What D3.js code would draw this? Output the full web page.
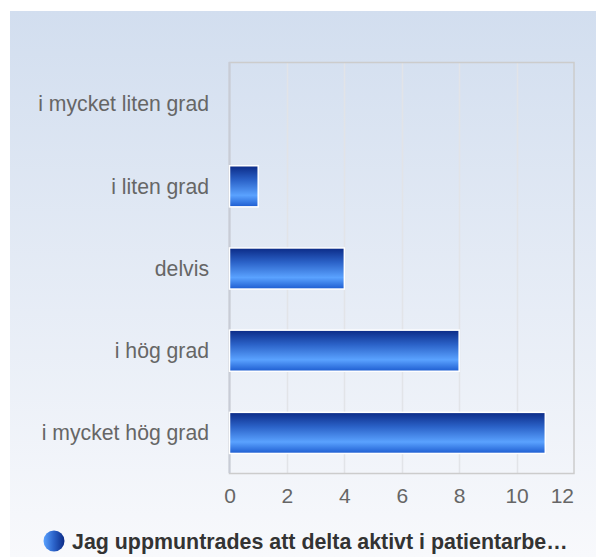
<!DOCTYPE html>
<html><head><meta charset="utf-8">
<script src="https://cdn.jsdelivr.net/npm/d3@7"></script>
<style>html,body{margin:0;padding:0;background:#fff;}svg{display:block;}</style>
</head><body>
<svg id="c" width="596" height="557"></svg>
<script>
const categories = ["i mycket liten grad","i liten grad","delvis","i hög grad","i mycket hög grad"];
const values = [0, 1, 4, 8, 11];
const xTicks = [0, 2, 4, 6, 8, 10, 12];
const seriesName = "Jag uppmuntrades att delta aktivt i patientarbe…";

const FONT = "'Liberation Sans', Arial, sans-serif";
const svg = d3.select("#c");
const defs = svg.append("defs");
const bg = defs.append("linearGradient").attr("id","bg").attr("x1",0).attr("y1",0).attr("x2",0).attr("y2",1);
bg.append("stop").attr("offset","0%").attr("stop-color","#d2deef");
bg.append("stop").attr("offset","100%").attr("stop-color","#f8f9fc");
const bar = defs.append("linearGradient").attr("id","bar").attr("x1",0).attr("y1",0).attr("x2",0).attr("y2",1);
bar.append("stop").attr("offset","0%").attr("stop-color","#0b2a86");
bar.append("stop").attr("offset","35%").attr("stop-color","#2b62c8");
bar.append("stop").attr("offset","72%").attr("stop-color","#5aa2ff");
bar.append("stop").attr("offset","100%").attr("stop-color","#1d5cd0");
const leg = defs.append("linearGradient").attr("id","leg").attr("x1",0).attr("y1",0).attr("x2",1).attr("y2",0);
leg.append("stop").attr("offset","0%").attr("stop-color","#5aa2ff");
leg.append("stop").attr("offset","50%").attr("stop-color","#2b62c8");
leg.append("stop").attr("offset","100%").attr("stop-color","#0b2a86");

svg.append("rect").attr("x",10).attr("y",11).attr("width",586).attr("height",546).attr("fill","url(#bg)");

const L = 229.5, R = 574, T = 62, B = 473;
const x = d3.scaleLinear().domain([0,12]).range([L,R]);
const y = d3.scaleBand().domain(categories).range([T,B]).paddingInner(0.5).paddingOuter(0.25);

// grid
svg.append("g").selectAll("line").data(xTicks.slice(1,-1)).join("line")
  .attr("x1",d=>Math.round(x(d))+0.5).attr("x2",d=>Math.round(x(d))+0.5)
  .attr("y1",T).attr("y2",B).attr("stroke","#e2e4e8").attr("stroke-width",1.5);
svg.append("rect").attr("x",L).attr("y",T+0.5).attr("width",R-L).attr("height",B-T)
  .attr("fill","none").attr("stroke","#cccccc").attr("stroke-width",1.5);
svg.append("line").attr("x1",L).attr("x2",L).attr("y1",T).attr("y2",B).attr("stroke","#c8ccd6").attr("stroke-width",2);

// bars
svg.append("g").selectAll("rect").data(categories.map((c,i)=>({c,v:values[i]})).filter(d=>d.v>0)).join("rect")
  .attr("x",x(0)).attr("y",d=>y(d.c)+1).attr("width",d=>x(d.v)-x(0)).attr("height",y.bandwidth())
  .attr("fill","url(#bar)").attr("stroke","#ffffff").attr("stroke-width",1.5);

// y labels
const yAxis = d3.axisLeft(y).tickSize(0).tickPadding(20.5);
const gy = svg.append("g").attr("transform",`translate(${L},1.5)`).call(yAxis);
gy.select(".domain").remove();
gy.selectAll("text").style("font-family",FONT).style("font-size","21.2px").attr("fill","#666");

// x ticks
const xAxis = d3.axisBottom(x).tickValues(xTicks).tickSize(0).tickPadding(15.5);
const gx = svg.append("g").attr("transform",`translate(0,${B})`).call(xAxis);
gx.select(".domain").remove();
gx.selectAll("text").style("font-family",FONT).style("font-size","21px").attr("fill","#666");
// last label is kept inside the plot edge
gx.selectAll(".tick").filter(d=>d===xTicks[xTicks.length-1]).select("text")
  .attr("text-anchor","end").attr("x",-0.5);

// legend
svg.append("circle").attr("cx",54).attr("cy",541).attr("r",10.5).attr("fill","url(#leg)");
svg.append("text").attr("x",72).attr("y",549).text(seriesName)
  .style("font-family",FONT).style("font-size","21.4px").style("font-weight","bold").attr("fill","#333");
</script>
</body></html>
